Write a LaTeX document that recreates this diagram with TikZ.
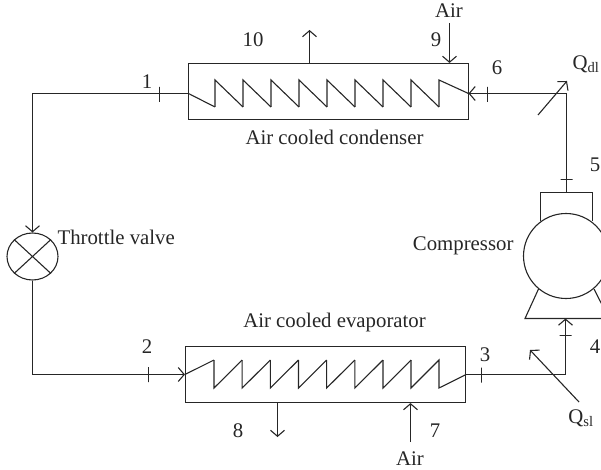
\documentclass[tikz,border=0pt]{standalone}
\usepackage{fontspec}
\setmainfont{Liberation Serif}
\usetikzlibrary{positioning,arrows.meta,shapes.geometric}

\begin{document}
\begin{tikzpicture}[x=1pt, y=-1pt, line width=1.1pt, font=\fontsize{20.8}{23}\selectfont, color=black!85,
    arrow/.style={-{Straight Barb[length=6pt,width=14pt,line width=1.1pt]}},
    exchanger/.style={rectangle, draw, minimum width=280pt, minimum height=56pt, inner sep=0pt},
    vtick/.style={draw, rectangle, inner sep=0pt, minimum width=0pt, minimum height=15pt},
    htick/.style={draw, rectangle, inner sep=0pt, minimum width=12pt, minimum height=0pt},
    lbl/.style={inner sep=0pt}]

    \useasboundingbox (0,0) rectangle (601,470);
    \clip (0,0) rectangle (601,470);

    % exchangers, valve and compressor
    \node [exchanger] (condenser) at (328.5,91.5) {};
    \node [exchanger] (evaporator) at (325.5,374.5) {};
    \node [draw, ellipse, minimum width=51pt, minimum height=47pt, inner sep=0pt] (valve) at (32.5,256.5) {};
    \node [draw, circle, minimum size=85pt, inner sep=0pt] (compressor) at (566,256) {};

    \draw (valve.north west) -- (valve.south east);
    \draw (valve.north east) -- (valve.south west);

    % pipe corners and coil ends
    \coordinate (condin) at (468.5,93.5);
    \coordinate (condout) at (188.5,93.5);
    \coordinate (corner1) at (32.5,93.5);
    \coordinate (corner2) at (32.5,374.5);
    \coordinate (corner3) at (565.5,374.5);
    \coordinate (corner6) at (566.5,93.5);
    \coordinate (head) at (566.5,192.5);
    \coordinate (feet) at (565.5,318.5);

    % compressor head and feet
    \coordinate (headl) at (540.5,192.5);
    \coordinate (headr) at (592.5,192.5);
    \coordinate (headlb) at (540.5,221);
    \coordinate (headrb) at (592.5,221);
    \coordinate (footl) at (525,318.5);
    \coordinate (footr) at (609,318.5);
    \coordinate (legl) at (538.5,289);
    \coordinate (legr) at (594,289);
    \draw (headlb) -- (headl) -- (headr) -- (headrb);
    \draw (legl) -- (footl) -- (footr) -- (legr);

    % coils
    \draw (condout) -- (215,107);
    \foreach \x in {215,243,...,411} {
        \draw (\x,107) -- (\x,80) -- (\x+28,107);
    }
    \draw (439,107) -- (439,80) -- (condin);
    \draw (evaporator.west) -- (214,360);
    \foreach \i in {0,...,6} {
        \draw (214+\i*28.17,360) -- (214+\i*28.17,388) -- (242.17+\i*28.17,360);
    }
    \draw (411,360) -- (411,388) -- (439,360) -- (439,388) -- (evaporator.east);

    % refrigerant loop
    \draw[arrow] (head) -- (corner6) -- (condin);
    \draw[arrow] (condout) -- (corner1) -- (valve.north);
    \draw[arrow] (valve.south) -- (corner2) -- (evaporator.west);
    \draw[arrow] (evaporator.east) -- (corner3) -- (feet);

    % ticks
    \foreach \name/\x/\y in {t1/159.5/94.5, t2/148.5/374.5, t3/481.5/375, t6/487.5/94.5} {
        \node [vtick] (\name) at (\x,\y) {};
    }
    \node [htick] (t5) at (566.5,179.5) {};
    \node [htick] (t4) at (565.5,335.5) {};

    % air and heat arrows
    \coordinate (airin9) at (449.5,23);
    \coordinate (airout10) at (309.5,30);
    \coordinate (airout8) at (277.5,437);
    \coordinate (airin7) at (410.5,442);
    \coordinate (dltail) at (538,115);
    \coordinate (dlhead) at (567,81);
    \coordinate (sltail) at (579,402);
    \coordinate (slhead) at (530,350);
    \draw[arrow] (airin9) -- (airin9 |- condenser.north);
    \draw[arrow] (airout10 |- condenser.north) -- (airout10);
    \draw[arrow] (airout8 |- evaporator.south) -- (airout8);
    \draw[arrow] (airin7) -- (airin7 |- evaporator.south);
    \draw[arrow] (dltail) -- (dlhead);
    \draw[arrow] (sltail) -- (slhead);

    % labels
    \node [lbl, below = 9pt of condenser, xshift=6pt] (condname) {Air cooled condenser};
    \node [lbl, above = 13pt of evaporator, xshift=9pt] (evapname) {Air cooled evaporator};
    \node [lbl, anchor=west] (valvename) at (57,237) {Throttle valve};
    \node [lbl, anchor=east] (compname) at (514,246) {Compressor};
    \node [lbl] (air9) at (449,11) {Air};
    \node [lbl] (air7) at (410,459) {Air};
    \node [lbl] (qdl) at (586,64) {Q\textsubscript{dl}};
    \node [lbl] (qsl) at (581,418) {Q\textsubscript{sl}};
    \foreach \name/\txt/\x/\y in {n1/1/147/82, n2/2/147/347, n3/3/485/355, n4/4/595/347, n5/5/595/165,
        n6/6/497/68, n7/7/435/431, n8/8/238/431, n9/9/436/40, n10/10/253/40} {
        \node [lbl] (\name) at (\x,\y) {\txt};
    }
\end{tikzpicture}
\end{document}
